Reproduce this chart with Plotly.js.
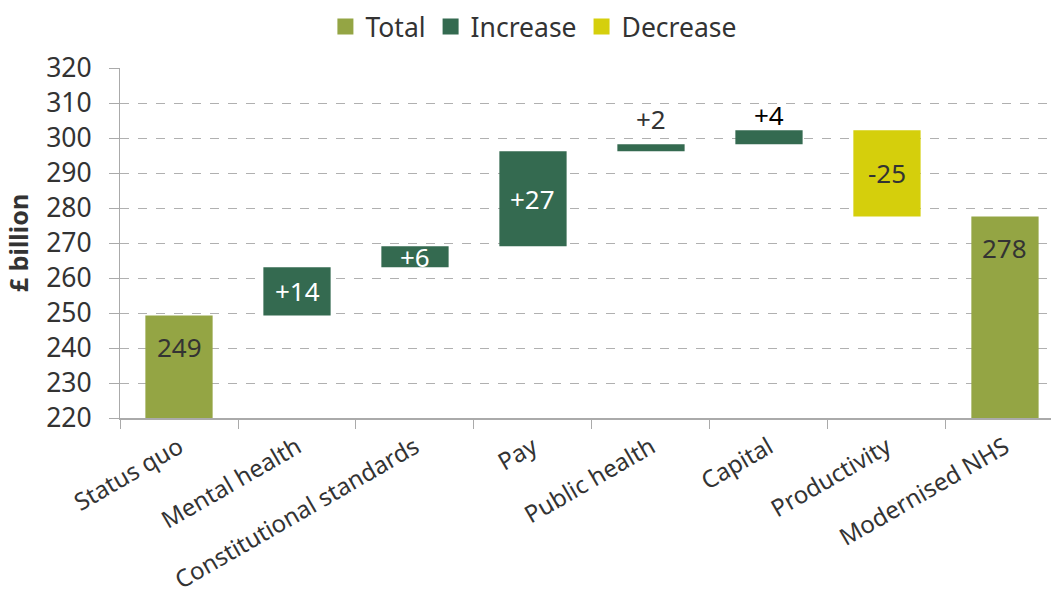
<!DOCTYPE html>
<html>
<head>
<meta charset="utf-8">
<script src="https://cdn.plot.ly/plotly-3.0.1.min.js"></script>
<style>
html,body{margin:0;padding:0;overflow:hidden;background:#fff;}
#chart{width:1051px;height:594px;}
</style>
</head>
<body>
<div id="chart"></div>
<script>
// ---- data ----
const categories = ["Status quo","Mental health","Constitutional standards","Pay","Public health","Capital","Productivity","Modernised NHS"];
const kinds = ["total","increase","increase","increase","increase","increase","decrease","total"];
// starting total, then changes; final total is the running sum
const changes = [249.3, 13.8, 6.0, 27.1, 2.0, 4.0, -24.6, null];
const seriesNames = ["Total","Increase","Decrease"];

// ---- styles ----
const colors = {total:"#94a544", increase:"#346a50", decrease:"#d5cf0c"};
const FONT = "Noto Sans, Open Sans, sans-serif";
const TXT = "#333333";
const TICK_SIZE = 26.5, XTICK_SIZE = 24, LABEL_SIZE = 26;
const outsideShift = {"Public health":5, "Capital":-5};
const outsideColor = {"Public health":"#333333", "Capital":"#000000"};

// ---- compute waterfall geometry ----
let running = 0;
const bars = {total:{x:[],y:[],base:[]}, increase:{x:[],y:[],base:[]}, decrease:{x:[],y:[],base:[]}};
const annotations = [];
categories.forEach((c,i)=>{
  const k = kinds[i];
  if (k === "total") {
    if (changes[i] !== null) running = changes[i];
    bars.total.x.push(c); bars.total.y.push(running); bars.total.base.push(0);
    annotations.push({x:c, y:running, text:String(Math.round(running)), yanchor:"top", yshift:-12,
      showarrow:false, font:{family:FONT,size:LABEL_SIZE,color:TXT}});
  } else {
    const d = changes[i];
    const start = running, end = running + d;
    running = end;
    const lo = Math.min(start,end), hi = Math.max(start,end);
    bars[k].x.push(c); bars[k].y.push(hi-lo); bars[k].base.push(lo);
    const label = (d>0?"+":"") + Math.round(d);
    if (Math.abs(d) >= 5) {
      annotations.push({x:c, y:(lo+hi)/2, text:label, yanchor:"middle", showarrow:false,
        font:{family:FONT,size:LABEL_SIZE,color: k==="increase" ? "#ffffff" : TXT}});
    } else {
      annotations.push({x:c, y:hi, text:label, yanchor:"bottom", yshift:(outsideShift[c]||0), showarrow:false,
        font:{family:FONT,size:LABEL_SIZE,color:(outsideColor[c]||TXT)}});
    }
  }
});

const traces = [];
["total","increase","decrease"].forEach((k)=>{
  traces.push({type:"bar", x:bars[k].x, y:bars[k].y, base:bars[k].base, width:0.57,
    marker:{color:colors[k]}, showlegend:false, hoverinfo:"skip"});
});
// legend entries
["total","increase","decrease"].forEach((k,j)=>{
  traces.push({type:"scatter", mode:"markers", x:[null], y:[null], name:seriesNames[j],
    marker:{symbol:"square", size:17, color:colors[k]}, showlegend:true});
});

const layout = {
  width:1051, height:594,
  margin:{l:120, r:0, t:68, b:176},
  paper_bgcolor:"#fff", plot_bgcolor:"#fff",
  font:{family:FONT, size:TICK_SIZE, color:TXT},
  barmode:"overlay",
  showlegend:true,
  legend:{orientation:"h", xref:"container", yref:"container", x:0.508, y:0.955,
    xanchor:"center", yanchor:"middle", font:{family:FONT,size:TICK_SIZE,color:TXT}, itemwidth:30},
  xaxis:{type:"category", categoryorder:"array", categoryarray:categories,
    range:[-0.5, 7.39], ticks:"outside", tickson:"boundaries", ticklen:9, tickcolor:"#aaaaaa",
    showline:true, linecolor:"#aaaaaa", linewidth:2, showgrid:false, tickangle:-30,
    ticklabelstandoff:4,
    tickfont:{family:FONT,size:XTICK_SIZE,color:TXT}, fixedrange:true},
  yaxis:{range:[220,320], dtick:10, ticks:"outside", ticklen:10, tickcolor:"#aaaaaa",
    showline:true, linecolor:"#aaaaaa", linewidth:1, showgrid:true, gridcolor:"#b0b0b0",
    griddash:"dash", gridwidth:1, zeroline:false, ticklabelstandoff:12,
    tickfont:{family:FONT,size:TICK_SIZE,color:TXT},
    title:{text:"<b>£ billion</b>", font:{family:FONT,size:25,color:TXT}, standoff:10}},
  annotations:annotations
};

Plotly.newPlot("chart", traces, layout, {displayModeBar:false, staticPlot:true});
</script>
</body>
</html>
